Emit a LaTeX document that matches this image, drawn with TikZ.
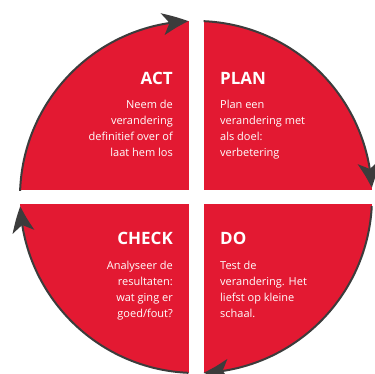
\documentclass[tikz,border=0pt]{standalone}
\usepackage{fontspec}
\setmainfont{Open Sans}
\usetikzlibrary{arrows.meta,bending,positioning}
\definecolor{pdcared}{RGB}{227,25,50}
\definecolor{pdcagray}{RGB}{60,60,60}
\tikzset{
  title/.style={text=white,font=\bfseries\fontsize{17}{20}\selectfont,inner sep=0pt},
  body/.style={text=white,font=\fontsize{11}{16}\selectfont,inner sep=0pt},
  rim/.style={pdcagray,line width=2pt,-{Stealth[length=26pt,width=22pt,inset=7pt,bend]}}
}
\begin{document}
\begin{tikzpicture}[x=1pt,y=1pt]
  \useasboundingbox (0,0) rectangle (374,374);
  \coordinate (c) at (196,177);
  % disc and gaps
  \fill[pdcared] (c) circle[radius=176];
  \fill[white] (189,0) rectangle (204,374);
  \fill[white] (0,170) rectangle (374,184);
  % cycle arrows
  \draw[rim] ([shift={(178:176)}]c) arc[start angle=178,end angle=92.5,radius=176];
  \draw[rim] ([shift={(87.5:176)}]c) arc[start angle=87.5,end angle=3,radius=176];
  \draw[rim] ([shift={(-3:176)}]c) arc[start angle=-3,end angle=-87.5,radius=176];
  \draw[rim] ([shift={(-92.5:176)}]c) arc[start angle=-92.5,end angle=-177,radius=176];
  % labels
  \node[title,anchor=base east] (act) at (173,289) {ACT};
  \node[body,align=right,below left=15pt and 0pt of act.base east] (actt)
    {Neem de\\verandering\\definitief over of\\laat hem los};
  \node[title,anchor=base west] (plan) at (220,289) {PLAN};
  \node[body,align=left,below right=15pt and 0pt of plan.base west] (plant)
    {Plan een\\verandering met\\als doel:\\verbetering};
  \node[title,anchor=base east] (check) at (173,129) {CHECK};
  \node[body,align=right,below left=16pt and 0pt of check.base east] (checkt)
    {Analyseer de\\resultaten:\\wat ging er\\goed/fout?};
  \node[title,anchor=base west] (do) at (220,129) {DO};
  \node[body,align=left,below right=16pt and 0pt of do.base west] (dot)
    {Test de\\verandering. Het\\liefst op kleine\\schaal.};
\end{tikzpicture}
\end{document}
